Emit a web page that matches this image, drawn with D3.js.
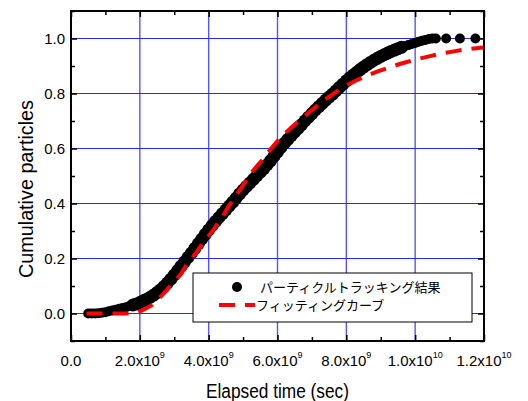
<!DOCTYPE html>
<html lang="ja">
<head>
<meta charset="UTF-8">
<title>Cumulative particles</title>
<script src="https://d3js.org/d3.v7.min.js"></script>
<style>
  body { margin: 0; background: #fff; }
  text { font-family: "Liberation Sans", Arial, sans-serif; fill: #000; }
  .jp { font-family: "Noto Sans CJK JP", sans-serif; }
</style>
</head>
<body>
<svg id="chart" width="528" height="401"></svg>
<script>
// elapsed time in units of 1e9 sec
var trackTime = [0.5,0.6,0.7,0.8,0.9,1.0,1.1,1.2,1.3,1.4,1.5,1.6,1.7,1.8,1.9,
  2.0,2.1,2.2,2.3,2.4,2.5,2.6,2.7,2.8,2.9,3.0,3.1,3.2,3.3,3.4,3.5,3.6,3.7,3.8,3.9,
  4.0,4.1,4.2,4.3,4.4,4.5,4.6,4.7,4.8,4.9,5.0,5.1,5.2,5.3,5.4,5.5,5.6,5.7,5.8,5.9,
  6.0,6.1,6.2,6.3,6.4,6.5,6.6,6.7,6.8,6.9,7.0,7.1,7.2,7.3,7.4,7.5,7.6,7.7,7.8,7.9,
  8.0,8.1,8.2,8.3,8.4,8.5,8.6,8.7,8.8,8.9,9.0,9.1,9.2,9.3,9.4,9.5,9.6,9.7,9.8,9.9,
  10.0,10.1,10.2,10.3,10.4,10.5,10.6,10.9,11.3,11.75];
var trackFrac = [0,0,0,0.001,0.003,0.005,0.008,0.011,0.014,0.017,0.020,0.023,0.027,0.031,0.035,
  0.040,0.046,0.052,0.059,0.067,0.076,0.086,0.098,0.111,0.125,0.140,0.156,0.172,0.188,0.204,0.220,0.237,0.254,0.271,0.288,
  0.304,0.320,0.335,0.349,0.363,0.377,0.391,0.405,0.420,0.435,0.449,0.462,0.475,0.488,0.501,0.514,0.527,0.541,0.556,0.572,
  0.588,0.604,0.619,0.633,0.647,0.660,0.673,0.687,0.701,0.714,0.727,0.740,0.752,0.764,0.776,0.787,0.798,0.810,0.822,0.834,
  0.846,0.857,0.867,0.877,0.887,0.896,0.905,0.913,0.921,0.928,0.935,0.941,0.947,0.953,0.958,0.963,0.968,0.972,0.976,0.980,
  0.984,0.988,0.992,0.995,0.998,1.0,1.0,1.0,1.0,1.0];

var fitTime = [0.45,1.0,1.5,1.8,2.0,2.2,2.4,2.6,2.8,3.0,3.2,3.4,3.6,3.8,4.0,4.2,4.4,4.6,4.8,
  5.0,5.2,5.4,5.6,5.8,6.0,6.2,6.4,6.6,6.8,7.0,7.2,7.4,7.6,7.8,8.0,8.2,8.4,8.6,8.8,
  9.0,9.2,9.4,9.6,9.8,10.0,10.4,10.8,11.2,11.6,12.0];
var fitFrac = [0,0,0,0.002,0.008,0.02,0.035,0.06,0.088,0.115,0.145,0.185,0.215,0.25,0.282,0.316,0.352,0.393,0.43,
  0.467,0.505,0.535,0.565,0.597,0.627,0.653,0.676,0.698,0.719,0.74,0.76,0.78,0.797,0.814,0.829,0.842,0.854,0.865,0.875,
  0.884,0.893,0.901,0.909,0.916,0.923,0.935,0.946,0.955,0.962,0.967];

var xMajor = [0, 2, 4, 6, 8, 10, 12];
var xLabels = ["0.0", "2.0x10|9", "4.0x10|9", "6.0x10|9", "8.0x10|9", "1.0x10|10", "1.2x10|10"];
var yMajor = [0, 0.2, 0.4, 0.6, 0.8, 1.0];
var yLabels = ["0.0", "0.2", "0.4", "0.6", "0.8", "1.0"];
var legendNames = ["パーティクルトラッキング結果", "フィッティングカーブ"];

var svg = d3.select("#chart"),
    pL = 71, pR = 484, pT = 11, pB = 341;

var x = d3.scaleLinear().domain([0, 12]).range([pL, pR]);
var y = d3.scaleLinear().domain([-0.1, 1.1]).range([pB, pT]);

svg.append("rect").attr("width", 528).attr("height", 401).attr("fill", "#fff");

// grid
svg.append("g").selectAll("line").data(xMajor.slice(1, -1)).join("line")
    .attr("x1", d => x(d)).attr("x2", d => x(d))
    .attr("y1", pT).attr("y2", pB)
    .attr("stroke", "#5555ff").attr("stroke-width", 1.4);
svg.append("g").selectAll("line").data(yMajor).join("line")
    .attr("x1", pL).attr("x2", pR)
    .attr("y1", d => y(d)).attr("y2", d => y(d))
    .attr("stroke", "#2a2aff").attr("stroke-width", 1.2);

// axes with inward ticks
var xMinor = d3.range(1, 12, 2);
var yMinor = [-0.1, 0.1, 0.3, 0.5, 0.7, 0.9, 1.1];
function tickAxis(axis, vals, len, tr) {
  svg.append("g").attr("transform", tr)
     .call(axis.tickValues(vals).tickSize(len).tickFormat(""))
     .call(g => g.select(".domain").remove())
     .selectAll("line").attr("stroke", "#000").attr("stroke-width", 1.5);
}
tickAxis(d3.axisTop(x), xMajor, 6, "translate(0," + pB + ")");
tickAxis(d3.axisTop(x), xMinor, 4, "translate(0," + pB + ")");
tickAxis(d3.axisBottom(x), xMajor, 6, "translate(0," + pT + ")");
tickAxis(d3.axisBottom(x), xMinor, 4, "translate(0," + pT + ")");
tickAxis(d3.axisRight(y), yMajor, 6, "translate(" + pL + ",0)");
tickAxis(d3.axisRight(y), yMinor, 4, "translate(" + pL + ",0)");
tickAxis(d3.axisLeft(y), yMajor, 6, "translate(" + pR + ",0)");
tickAxis(d3.axisLeft(y), yMinor, 4, "translate(" + pR + ",0)");

// data: particle tracking (band is a bit wider on the rising part)
svg.append("g").selectAll("circle").data(d3.zip(trackTime, trackFrac)).join("circle")
    .attr("cx", d => x(d[0])).attr("cy", d => y(d[1]))
    .attr("r", d => (d[1] > 0.03 && d[1] < 0.97) ? 6.5 : 5)
    .attr("fill", "#000");

// fitting curve
var line = d3.line().x(d => x(d[0])).y(d => y(d[1])).curve(d3.curveMonotoneX);
svg.append("path").datum(d3.zip(fitTime, fitFrac))
    .attr("d", line).attr("fill", "none")
    .attr("stroke", "#ff0000").attr("stroke-width", 4)
    .attr("stroke-dasharray", "16,10");

// frame
svg.append("rect").attr("x", pL).attr("y", pT)
    .attr("width", pR - pL).attr("height", pB - pT)
    .attr("fill", "none").attr("stroke", "#000").attr("stroke-width", 2);

// tick labels
var xl = svg.append("g").selectAll("text").data(d3.zip(xMajor, xLabels)).join("text")
    .attr("x", d => x(d[0])).attr("y", 366)
    .attr("text-anchor", "middle").style("font-size", "15px");
xl.each(function (d) {
  var parts = d[1].split("|"), t = d3.select(this);
  t.append("tspan").text(parts[0]);
  if (parts[1]) t.append("tspan").attr("dy", -8).style("font-size", "9px").text(parts[1]);
});
svg.append("g").selectAll("text").data(d3.zip(yMajor, yLabels)).join("text")
    .attr("x", 65).attr("y", d => y(d[0]) + 5.5)
    .attr("text-anchor", "end").style("font-size", "15px")
    .text(d => d[1]);

// axis titles
svg.append("text").attr("x", (pL + pR) / 2).attr("y", 398)
    .attr("text-anchor", "middle").style("font-size", "20px")
    .attr("textLength", 143).attr("lengthAdjust", "spacingAndGlyphs")
    .text("Elapsed time (sec)");
svg.append("text").attr("transform", "translate(33,189) rotate(-90)")
    .attr("text-anchor", "middle").style("font-size", "20px")
    .attr("textLength", 178).attr("lengthAdjust", "spacingAndGlyphs")
    .text("Cumulative particles");

// legend
var lg = svg.append("g");
lg.append("rect").attr("x", 193).attr("y", 273).attr("width", 279).attr("height", 49)
    .attr("fill", "#fff").attr("stroke", "#000").attr("stroke-width", 1);
lg.append("circle").attr("cx", 237).attr("cy", 287).attr("r", 5).attr("fill", "#000");
lg.append("line").attr("x1", 219).attr("x2", 255).attr("y1", 305).attr("y2", 305)
    .attr("stroke", "#ff0000").attr("stroke-width", 4).attr("stroke-dasharray", "16,10");
lg.selectAll("text.jp").data(legendNames).join("text").attr("class", "jp")
    .attr("x", (d, i) => i ? 256 : 260).attr("y", (d, i) => i ? 310 : 292)
    .style("font-size", "13px").text(d => d);
</script>
</body>
</html>
